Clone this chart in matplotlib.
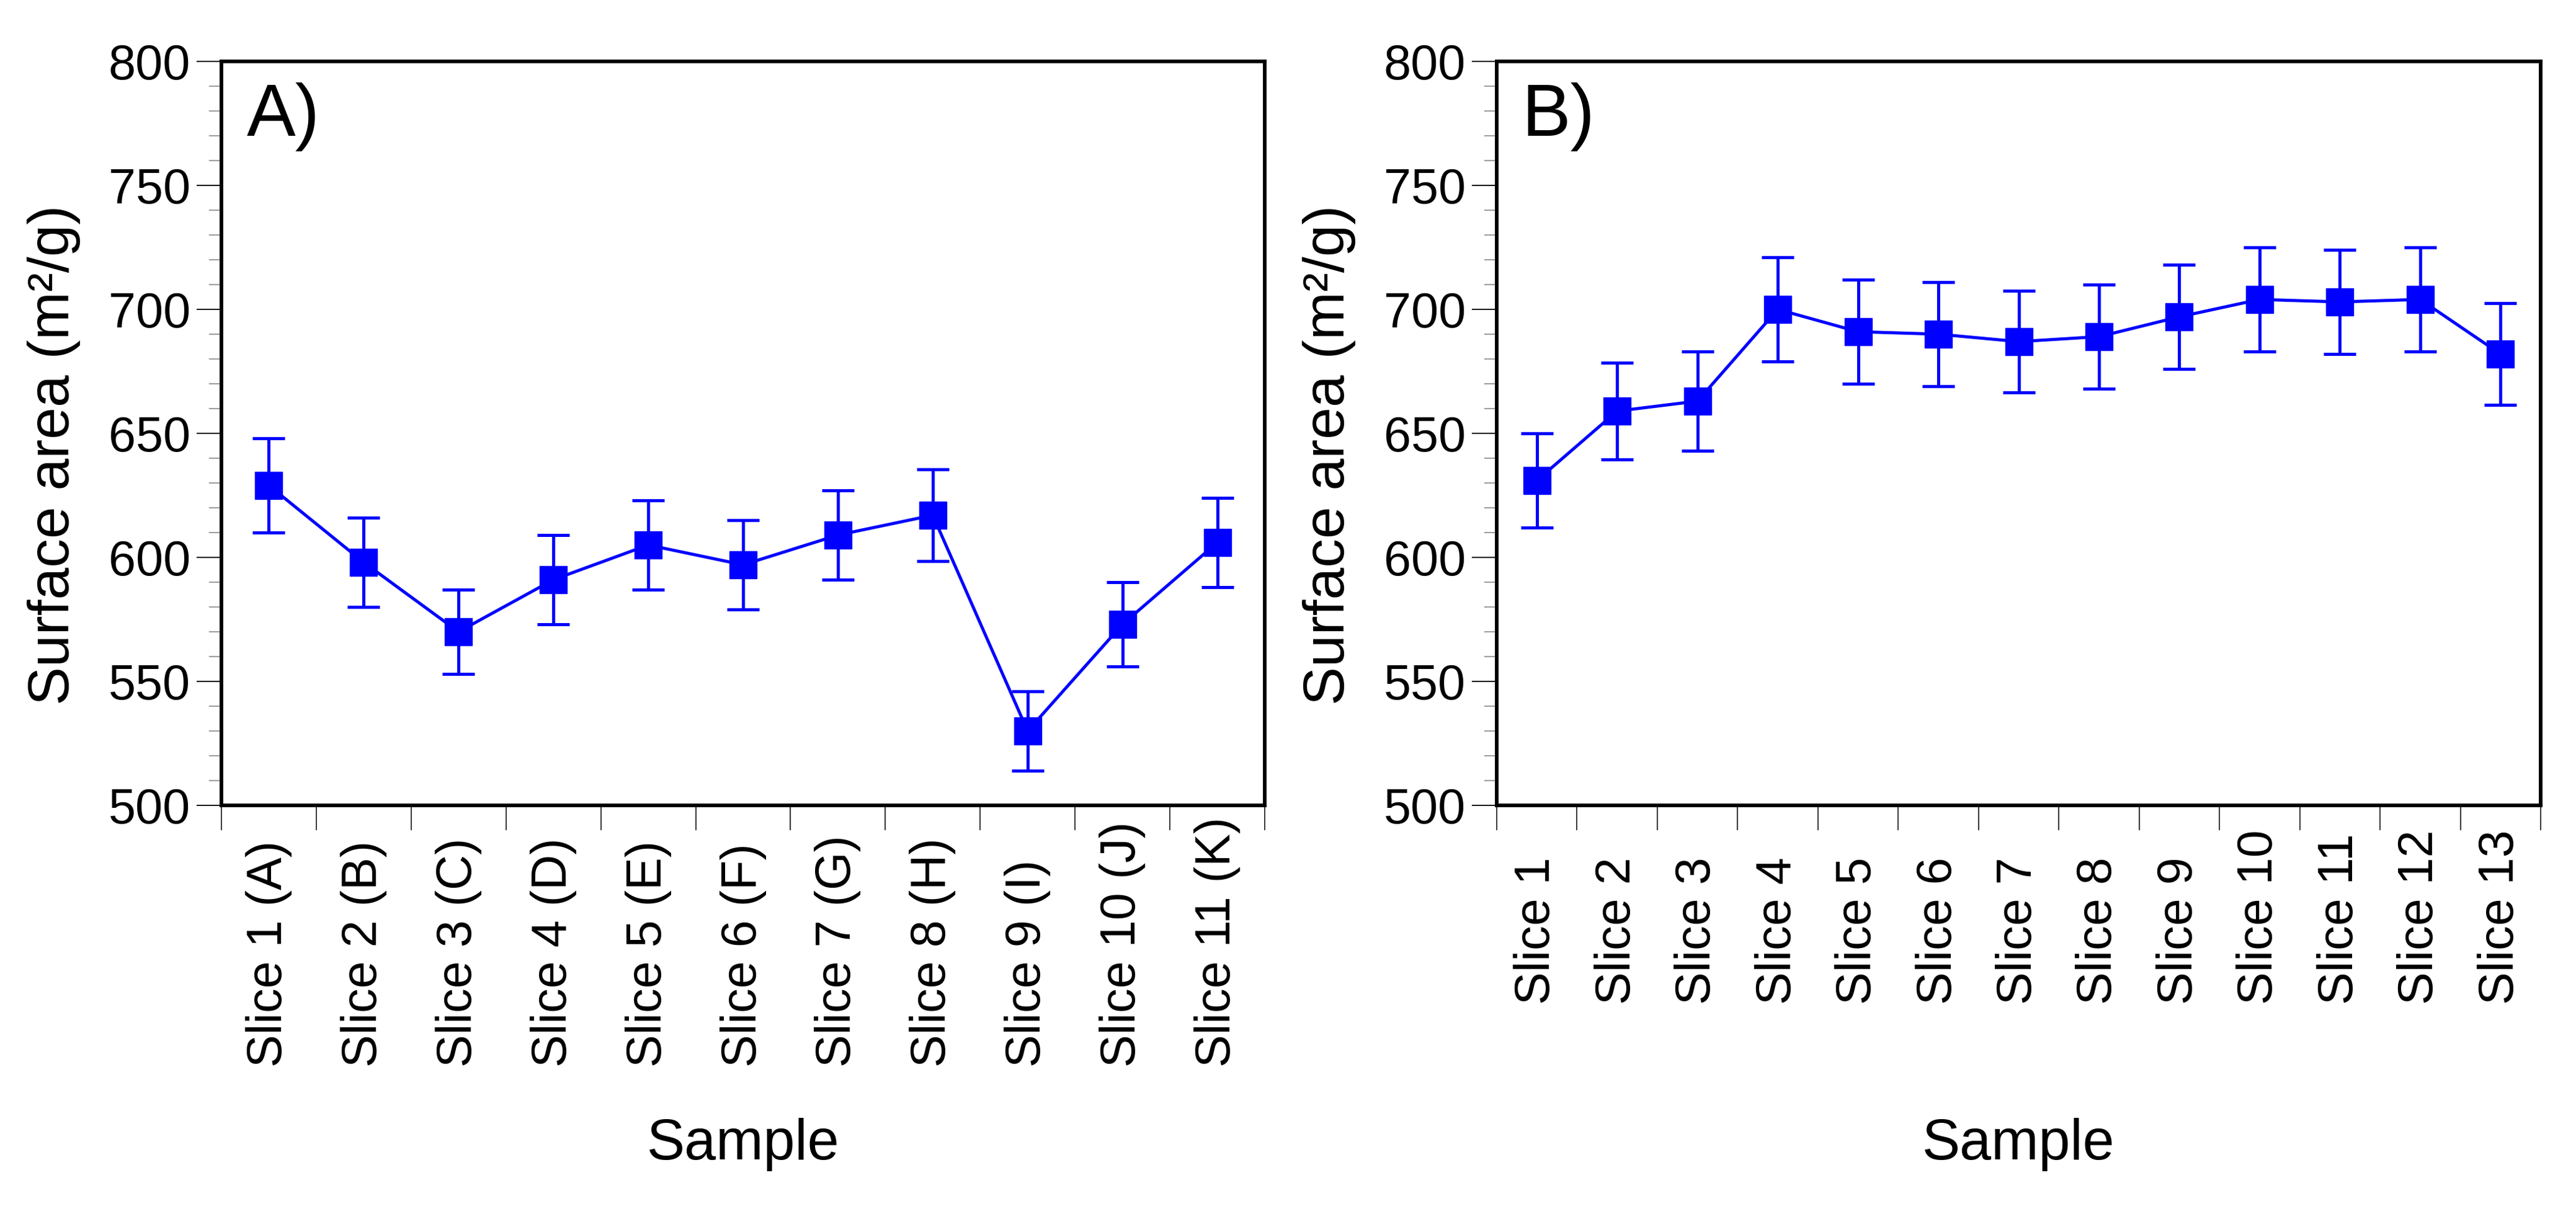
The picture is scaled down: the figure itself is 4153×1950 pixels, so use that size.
import matplotlib
matplotlib.use("Agg")
import matplotlib.pyplot as plt
from matplotlib.ticker import MultipleLocator, FixedLocator, NullFormatter

plt.rcParams['font.family'] = ['Liberation Sans', 'DejaVu Sans']

# ---- data ----
labels_a = ["Slice 1 (A)", "Slice 2 (B)", "Slice 3 (C)", "Slice 4 (D)", "Slice 5 (E)",
            "Slice 6 (F)", "Slice 7 (G)", "Slice 8 (H)", "Slice 9 (I)", "Slice 10 (J)",
            "Slice 11 (K)"]
values_a = [629, 598, 570, 591, 605, 597, 609, 617, 530, 573, 606]
errors_a = [19, 18, 17, 18, 18, 18, 18, 18.5, 16, 17, 18]

labels_b = ["Slice 1", "Slice 2", "Slice 3", "Slice 4", "Slice 5", "Slice 6", "Slice 7",
            "Slice 8", "Slice 9", "Slice 10", "Slice 11", "Slice 12", "Slice 13"]
values_b = [631, 659, 663, 700, 691, 690, 687, 689, 697, 704, 703, 704, 682]
errors_b = [19, 19.5, 20, 21, 21, 21, 20.5, 21, 21, 21, 21, 21, 20.5]

panel_tags = ["A)", "B)"]
y_label = "Surface area (m\u00b2/g)"
x_label = "Sample"

W, H = 4153, 1950
DPI = 100
fig = plt.figure(figsize=(W / DPI, H / DPI), dpi=DPI)

px = 72.0 / DPI  # points per pixel

def make_panel(rect, labels, values, errors, tag, label_pad_px):
    ax = fig.add_axes(rect)
    n = len(labels)
    xs = [i + 0.5 for i in range(n)]
    ax.errorbar(xs, values, yerr=errors, color='#0000ff', marker='s', ms=32,
                mec='#0000ff', mfc='#0000ff', lw=3.6, elinewidth=3.6,
                capsize=19, capthick=3.6)
    ax.set_xlim(0, n)
    ax.set_ylim(500, 800)
    # y ticks
    ax.yaxis.set_major_locator(MultipleLocator(50))
    ax.yaxis.set_minor_locator(MultipleLocator(10))
    ax.tick_params(axis='y', which='major', direction='out', length=40 * px,
                   width=1.3, color='black', labelsize=57, pad=10 * px)
    ax.tick_params(axis='y', which='minor', direction='out', length=20 * px,
                   width=1.2, color='#8a8a8a')
    # x ticks: labels at category centres, tick marks at category edges
    ax.xaxis.set_major_locator(FixedLocator(xs))
    ax.set_xticklabels(labels, rotation=90, va='bottom', ha='center')
    ax.xaxis.set_minor_locator(FixedLocator(list(range(n + 1))))
    ax.xaxis.set_minor_formatter(NullFormatter())
    ax.tick_params(axis='x', which='major', length=0, labelsize=57,
                   pad=(40 + label_pad_px) * px)
    ax.tick_params(axis='x', which='minor', direction='out', length=40 * px,
                   width=1.1, color='black')
    for s in ax.spines.values():
        s.set_linewidth(4.2)
    ax.set_ylabel(y_label, fontsize=67)
    ax.yaxis.set_label_coords(-0.135, 0.471)
    ax.set_xlabel(x_label, fontsize=66, va='baseline')
    ax.xaxis.set_label_coords(0.5, -0.476)
    ax.text(0.024, 0.90, tag, transform=ax.transAxes, fontsize=85,
            ha='left', va='baseline')
    return ax

top_px, bot_px = 99, 1299
h = (bot_px - top_px) / H
b = (H - bot_px) / H
make_panel([357 / W, b, 1682 / W, h], labels_a, values_a, errors_a, panel_tags[0], 382)
make_panel([2413 / W, b, 1683 / W, h], labels_b, values_b, errors_b, panel_tags[1], 281)

fig.savefig("out.png", dpi=DPI)
